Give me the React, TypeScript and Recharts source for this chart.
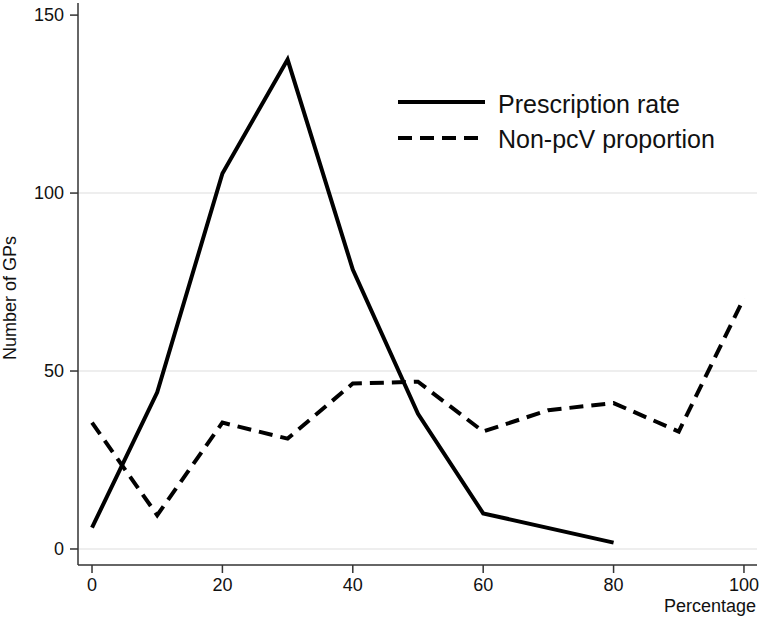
import { LineChart, Line, XAxis, YAxis, ReferenceLine, Label } from "recharts";

const percentage = [0, 10, 20, 30, 40, 50, 60, 70, 80, 90, 100];
const prescriptionRate = [6, 44, 105.5, 137.5, 78.5, 38, 10, null, 1.8, null, null];
const nonPcvProportion = [35.5, 9.5, 35.5, 31, 46.5, 47, 33, 39, 41, 33, 70.5];
const xTicks = [0, 20, 40, 60, 80, 100];
const yTicks = [0, 50, 100, 150];
const gridLines = [0, 50, 100];

const data = percentage.map((p, i) => ({
  pct: p,
  rate: prescriptionRate[i],
  nonPcv: nonPcvProportion[i],
}));

const FONT = "'Liberation Sans', Arial, Helvetica, sans-serif";
const AXIS = "#333";
const DASH = "14 8";

// legend drawn as its own little svg, placed over the top right of the plot
const LegendBox = () => (
  <svg
    width={340}
    height={80}
    style={{ position: "absolute", left: 390, top: 80, display: "block" }}
  >
    <line x1={8} x2={95} y1={22} y2={22} stroke="#000" strokeWidth={4} />
    <text x={108} y={33} fontSize={25} fontFamily={FONT} fill="#111">
      Prescription rate
    </text>
    <line x1={8} x2={95} y1={58} y2={58} stroke="#000" strokeWidth={4} strokeDasharray={DASH} />
    <text x={108} y={68} fontSize={25} fontFamily={FONT} fill="#111">
      Non-pcV proportion
    </text>
  </svg>
);

export default function App() {
  return (
    <div style={{ position: "absolute", left: 0, top: 0, width: 760, height: 620, background: "#fff" }}>
      <LineChart
        width={760}
        height={620}
        data={data}
        margin={{ top: 3, right: 3, bottom: 0, left: 0 }}
      >
        {gridLines.map((g) => (
          <ReferenceLine key={g} y={g} stroke="#e8e8e8" strokeWidth={1.5} />
        ))}
        <XAxis
          dataKey="pct"
          type="number"
          domain={[-2.15, 102]}
          allowDataOverflow
          ticks={xTicks}
          height={55}
          stroke={AXIS}
          strokeWidth={1.5}
          tickSize={8}
          tickMargin={5}
          tick={{ fill: "#111", fontSize: 18, fontFamily: FONT }}
        >
          <Label
            content={() => (
              <text x={756} y={612} textAnchor="end" fontSize={18} fontFamily={FONT} fill="#111">
                Percentage
              </text>
            )}
          />
        </XAxis>
        <YAxis
          type="number"
          domain={[-4.5, 153.4]}
          allowDataOverflow
          ticks={yTicks}
          width={78}
          stroke={AXIS}
          strokeWidth={1.5}
          tickSize={8}
          tickMargin={6}
          tick={{ fill: "#111", fontSize: 18, fontFamily: FONT }}
        >
          <Label
            content={() => (
              <text
                x={16}
                y={298}
                transform="rotate(-90 16 298)"
                textAnchor="middle"
                fontSize={18}
                fontFamily={FONT}
                fill="#111"
              >
                Number of GPs
              </text>
            )}
          />
        </YAxis>
        <Line
          dataKey="rate"
          stroke="#000"
          strokeWidth={4}
          dot={false}
          connectNulls
          strokeLinejoin="miter"
          isAnimationActive={false}
        />
        <Line
          dataKey="nonPcv"
          stroke="#000"
          strokeWidth={4}
          strokeDasharray={DASH}
          dot={false}
          isAnimationActive={false}
        />
      </LineChart>
      <LegendBox />
    </div>
  );
}
